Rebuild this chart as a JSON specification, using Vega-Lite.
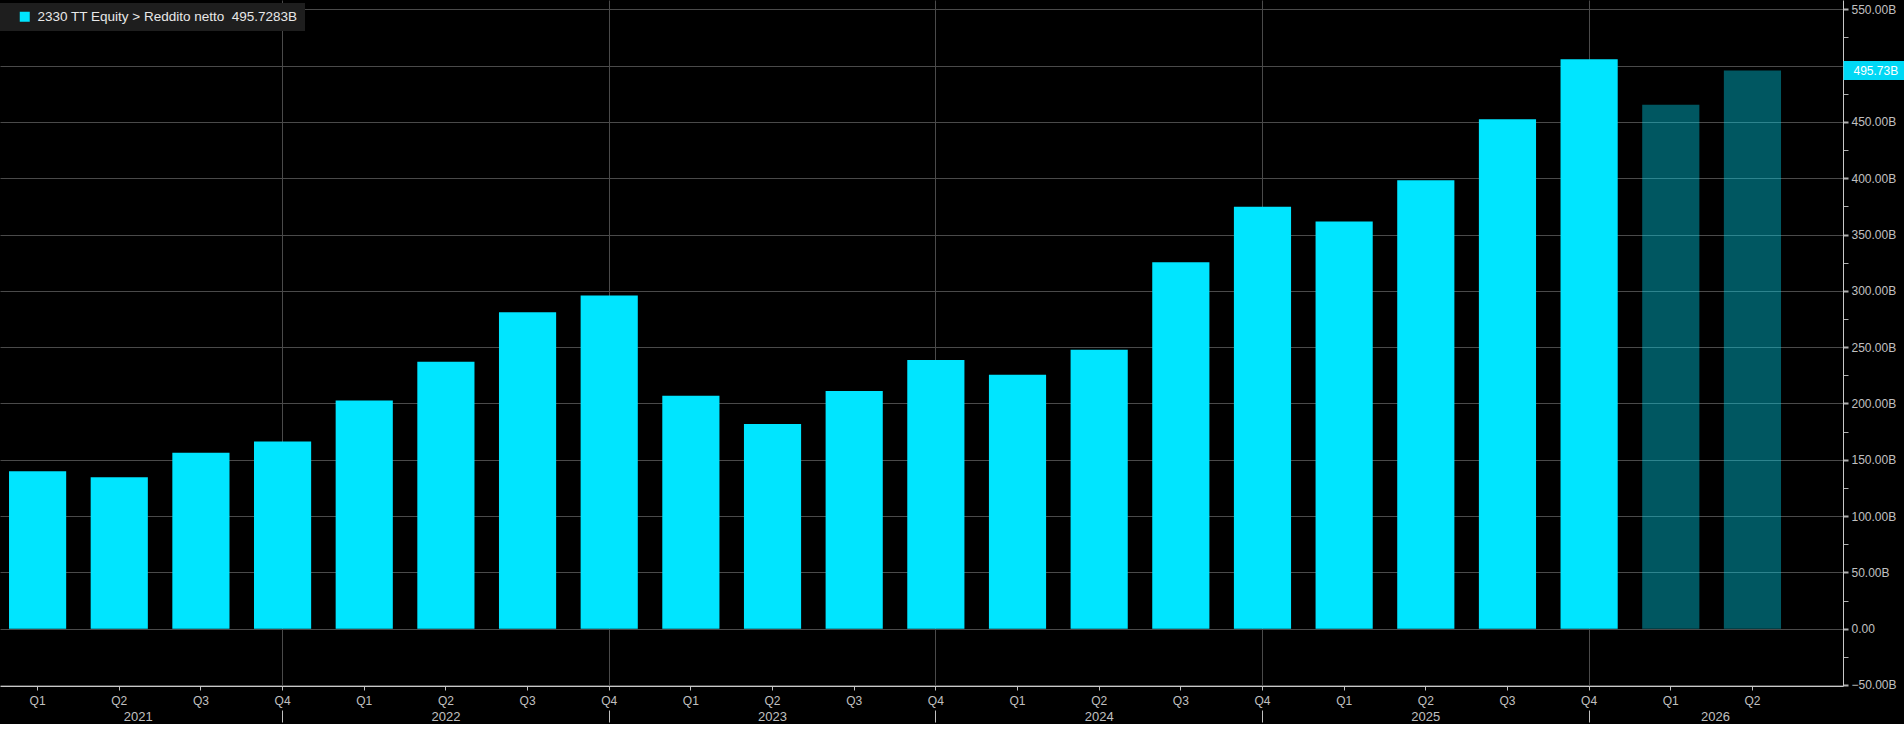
{
  "$schema": "https://vega.github.io/schema/vega-lite/v6.json",
  "background": "#000000",
  "padding": 0,
  "width": 1843,
  "height": 686,
  "config": {
    "view": {"stroke": null},
    "font": "Liberation Sans",
    "axis": {"labelFont": "Liberation Sans"}
  },
  "data": {
    "values": [
      {"q": "2021Q1", "v": 139.7, "t": "actual"},
      {"q": "2021Q2", "v": 134.4, "t": "actual"},
      {"q": "2021Q3", "v": 156.3, "t": "actual"},
      {"q": "2021Q4", "v": 166.2, "t": "actual"},
      {"q": "2022Q1", "v": 202.7, "t": "actual"},
      {"q": "2022Q2", "v": 237.0, "t": "actual"},
      {"q": "2022Q3", "v": 280.9, "t": "actual"},
      {"q": "2022Q4", "v": 295.9, "t": "actual"},
      {"q": "2023Q1", "v": 206.9, "t": "actual"},
      {"q": "2023Q2", "v": 181.8, "t": "actual"},
      {"q": "2023Q3", "v": 211.0, "t": "actual"},
      {"q": "2023Q4", "v": 238.7, "t": "actual"},
      {"q": "2024Q1", "v": 225.5, "t": "actual"},
      {"q": "2024Q2", "v": 247.8, "t": "actual"},
      {"q": "2024Q3", "v": 325.3, "t": "actual"},
      {"q": "2024Q4", "v": 374.7, "t": "actual"},
      {"q": "2025Q1", "v": 361.6, "t": "actual"},
      {"q": "2025Q2", "v": 398.3, "t": "actual"},
      {"q": "2025Q3", "v": 452.3, "t": "actual"},
      {"q": "2025Q4", "v": 505.7, "t": "actual"},
      {"q": "2026Q1", "v": 465.2, "t": "estimate"},
      {"q": "2026Q2", "v": 495.7283, "t": "estimate"}
    ]
  },
  "layer": [
    {
      "mark": {"type": "bar"},
      "encoding": {
        "x": {
          "field": "q", "type": "nominal", "sort": null,
          "scale": {"paddingInner": 0.3, "paddingOuter": 0.4347, "align": 0.127},
          "axis": {
            "title": null,
            "orient": "bottom",
            "bandPosition": 0.5,
            "labelExpr": "slice(datum.value, 4)",
            "labelAngle": 0,
            "labelColor": "#c0c0c0",
            "labelFontSize": 12,
            "labelPadding": 5,
            "labelOverlap": false,
            "tickSize": 4,
            "tickColor": "#c0c0c0",
            "domainColor": "#c8c8c8",
            "grid": true,
            "gridColor": "#4a4a4a",
            "gridOpacity": {"condition": {"test": "indexof(datum.value, 'Q4') >= 0", "value": 1}, "value": 0}
          }
        },
        "y": {
          "field": "v", "type": "quantitative",
          "scale": {"domain": [-50.9, 558.3], "nice": false, "zero": false},
          "axis": {
            "title": null,
            "orient": "right",
            "values": [-50, -25, 0, 25, 50, 75, 100, 125, 150, 175, 200, 225, 250, 275, 300, 325, 350, 375, 400, 425, 450, 475, 500, 525, 550],
            "labelExpr": "datum.value % 50 != 0 ? '' : (datum.value == 0 ? '0.00' : format(datum.value, '.2f') + 'B')",
            "labelColor": "#c0c0c0",
            "labelFontSize": 12,
            "labelPadding": 3,
            "labelOverlap": false,
            "labelBound": false,
            "labelFlush": false,
            "tickSize": 5,
            "tickColor": "#b0b0b0",
            "tickWidth": {"condition": {"test": "datum.value % 50 == 0", "value": 2}, "value": 1},
            "domainColor": "#c8c8c8",
            "grid": true,
            "gridColor": "#4a4a4a",
            "gridOpacity": {"condition": {"test": "datum.value % 50 == 0", "value": 1}, "value": 0}
          }
        },
        "color": {
          "field": "t", "type": "nominal",
          "scale": {"domain": ["actual", "estimate"], "range": ["#00E5FF", "#00E5FF"]},
          "legend": {
            "values": ["actual"],
            "title": null,
            "labelExpr": "'2330 TT Equity > Reddito netto\u00a0\u00a0495.7283B\u00a0\u00a0\u00a0\u00a0\u00a0\u00a0\u00a0'",
            "orient": "none",
            "legendX": 0,
            "legendY": 3,
            "fillColor": "#1e1e1e",
            "padding": 7,
            "symbolType": "square",
            "symbolSize": 100,
            "symbolOffset": 11,
            "symbolStrokeWidth": 0,
            "symbolOpacity": 1,
            "labelOffset": 6,
            "labelColor": "#e8e8e8",
            "labelFontSize": 13.5,
            "labelLimit": 0
          }
        },
        "opacity": {
          "field": "t", "type": "nominal",
          "scale": {"domain": ["actual", "estimate"], "range": [1, 0.38]},
          "legend": null
        }
      }
    },
    {
      "mark": {"type": "point", "opacity": 0},
      "encoding": {
        "x": {
          "field": "q", "type": "nominal", "sort": null,
          "axis": {
            "title": null,
            "orient": "bottom",
            "bandPosition": 0.5,
            "offset": 24,
            "domain": false,
            "grid": false,
            "labelExpr": "indexof(datum.value, 'Q2') >= 0 ? slice(datum.value, 0, 4) : ''",
            "labelAngle": 0,
            "labelColor": "#c0c0c0",
            "labelFontSize": 13,
            "labelPadding": -11.5,
            "labelOverlap": false,
            "labelOffset": {"condition": [{"test": "datum.value == '2021Q2'", "value": 19}, {"test": "datum.value == '2026Q2'", "value": -37}], "value": 0},
            "tickSize": 12,
            "tickColor": "#c0c0c0",
            "tickOpacity": {"condition": {"test": "indexof(datum.value, 'Q4') >= 0", "value": 1}, "value": 0}
          }
        }
      }
    },
    {
      "transform": [{"filter": "datum.q == '2026Q2'"}],
      "mark": {"type": "point", "opacity": 0},
      "encoding": {
        "x": {"field": "q", "type": "nominal", "sort": null, "axis": null},
        "y": {
          "field": "v", "type": "quantitative",
          "axis": {
            "title": null,
            "orient": "right",
            "values": [495.7283],
            "domain": false,
            "grid": false,
            "labelExpr": "'495.73B'",
            "labelColor": "#ffffff",
            "labelFontSize": 12,
            "labelPadding": -51,
            "labelBound": false,
            "labelFlush": false,
            "tickSize": 61,
            "tickWidth": 19,
            "tickColor": "#00D8F5",
            "zindex": 2
          }
        }
      }
    }
  ],
  "resolve": {"axis": {"x": "independent", "y": "independent"}}
}
